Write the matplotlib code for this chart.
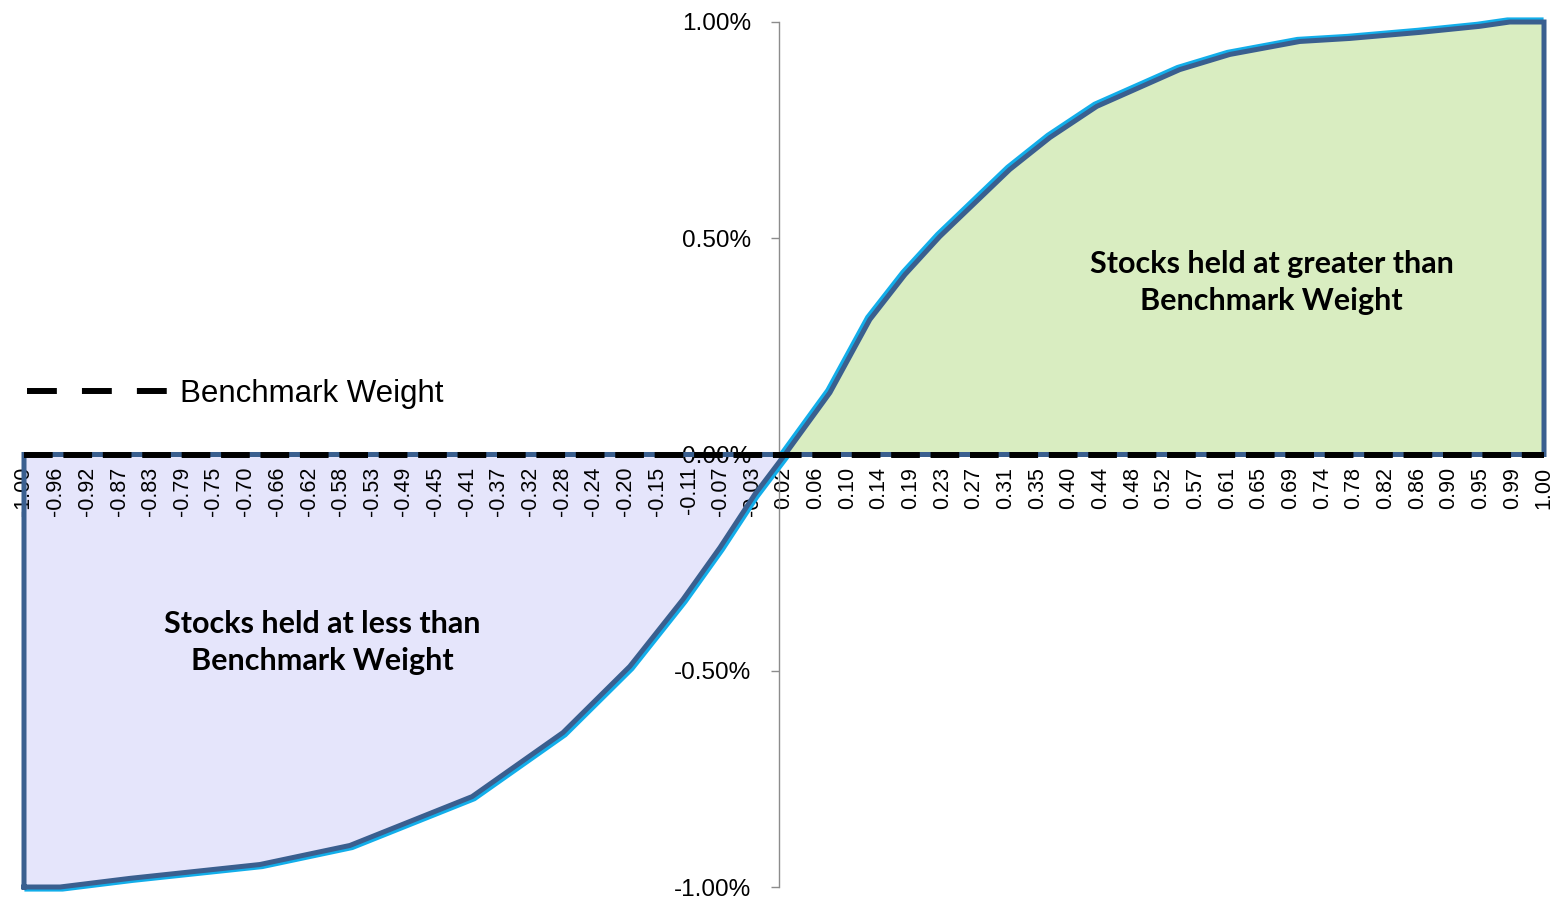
import numpy as np
import matplotlib
matplotlib.use('Agg')
import matplotlib.pyplot as plt
from matplotlib.lines import Line2D
from matplotlib.transforms import offset_copy
from matplotlib.ticker import FuncFormatter

# category labels on the x axis (equally spaced categories)
x_labels = ['-1.00', '-0.96', '-0.92', '-0.87', '-0.83', '-0.79', '-0.75', '-0.70',
            '-0.66', '-0.62', '-0.58', '-0.53', '-0.49', '-0.45', '-0.41', '-0.37',
            '-0.32', '-0.28', '-0.24', '-0.20', '-0.15', '-0.11', '-0.07', '-0.03',
            '0.02', '0.06', '0.10', '0.14', '0.19', '0.23', '0.27', '0.31', '0.35',
            '0.40', '0.44', '0.48', '0.52', '0.57', '0.61', '0.65', '0.69', '0.74',
            '0.78', '0.82', '0.86', '0.90', '0.95', '0.99', '1.00']
benchmark = [0.0] * len(x_labels)

# active weight curve (category position, % weight)
under_x = [0, 1.14, 3.35, 7.45, 10.29, 14.15, 17.02, 19.13, 20.81, 21.98, 23.08, 24.03]
under_y = [-1.0, -1.0, -0.98, -0.948, -0.904, -0.791, -0.643, -0.49, -0.335, -0.215, -0.092, 0.0]
over_x = [24.03, 25.45, 26.71, 27.82, 28.92, 31.13, 32.4, 33.88, 36.5, 38.08, 40.29,
          41.87, 44.08, 45.97, 46.92, 48.0]
over_y = [0.0, 0.143, 0.312, 0.416, 0.504, 0.659, 0.733, 0.805, 0.890, 0.925, 0.955,
          0.962, 0.976, 0.99, 1.0, 1.0]

y_ticks = [-1.0, -0.5, 0.0, 0.5, 1.0]

edge = '#3A5F8F'
cyan = '#12AEEA'

W, H = 1554, 899
fig = plt.figure(figsize=(W / 100, H / 100), dpi=100)
ax = fig.add_axes([24 / W, 12 / H, (1544 - 24) / W, (887 - 22) / H])
ax.set_xlim(0, 48)
ax.set_ylim(-1, 1)

xs = np.arange(len(x_labels))

# filled regions
px = [under_x[0]] + under_x + [under_x[0]]
py = [under_y[0]] + under_y + [0.0]
ax.fill(px, py, facecolor='#E5E5FB', edgecolor='none', zorder=1, clip_on=False)
qx = [over_x[0]] + over_x + [over_x[-1]]
qy = [0.0] + over_y + [0.0]
ax.fill(qx, qy, facecolor='#D9EDC1', edgecolor='none', zorder=1, clip_on=False)

# cyan curve peeking out from under the dark outline
t_left = offset_copy(ax.transData, fig=fig, x=2.5, y=-2.5, units='dots')
t_right = offset_copy(ax.transData, fig=fig, x=-2.5, y=2.5, units='dots')
ax.plot(under_x, under_y, color=cyan, lw=3, transform=t_left, zorder=2, clip_on=False)
ax.plot(over_x, over_y, color=cyan, lw=3, transform=t_right, zorder=2, clip_on=False)

# dark outlines
ax.plot(px + [px[0]], py + [py[0]], color=edge, lw=3.6, zorder=3,
        solid_joinstyle='miter', clip_on=False)
ax.plot(qx + [qx[0]], qy + [qy[0]], color=edge, lw=3.6, zorder=3,
        solid_joinstyle='miter', clip_on=False)

# benchmark weight line
ax.plot(xs, benchmark, color='black', lw=4.3, dashes=(4.8, 1.8), zorder=4, clip_on=False)

# axes styling
for s in ['top', 'right']:
    ax.spines[s].set_visible(False)
ax.spines['bottom'].set_position(('data', 0))
ax.spines['bottom'].set_visible(False)
ax.spines['left'].set_position(('data', 23.85))
ax.spines['left'].set_color('#8C8C8C')
ax.spines['left'].set_linewidth(1.0)
ax.spines['left'].set_zorder(1.8)

ax.set_xticks(xs)
ax.set_xticklabels(x_labels, rotation=90, fontsize=15.5, family='Liberation Sans')
ax.tick_params(axis='x', length=0, pad=9)

ax.set_yticks(y_ticks)
ax.yaxis.set_major_formatter(FuncFormatter(lambda v, p: '%.2f%%' % v))
ax.tick_params(axis='y', direction='out', length=6, width=1, color='#8C8C8C',
               pad=14, labelsize=17.5)
for lab in ax.get_yticklabels():
    lab.set_family('Liberation Sans')

ax.text(39.4, 0.398, 'Stocks held at greater than\nBenchmark Weight', ha='center',
        va='center', fontsize=22, fontweight='bold', family='Lato', linespacing=1.4,
        zorder=5)
ax.text(9.41, -0.435, 'Stocks held at less than\nBenchmark Weight', ha='center',
        va='center', fontsize=22, fontweight='bold', family='Lato', linespacing=1.4,
        zorder=5)

handle = Line2D([], [], color='black', lw=4.3, dashes=(5, 4.2))
leg = ax.legend([handle], ['Benchmark Weight'], loc='center left',
                bbox_to_anchor=(27 / W, (H - 394) / H), bbox_transform=fig.transFigure,
                frameon=False, borderpad=0, borderaxespad=0, handlelength=4.6,
                handletextpad=0.3, prop={'family': 'Liberation Sans', 'size': 22.5})

fig.savefig('out.png', dpi=100)
